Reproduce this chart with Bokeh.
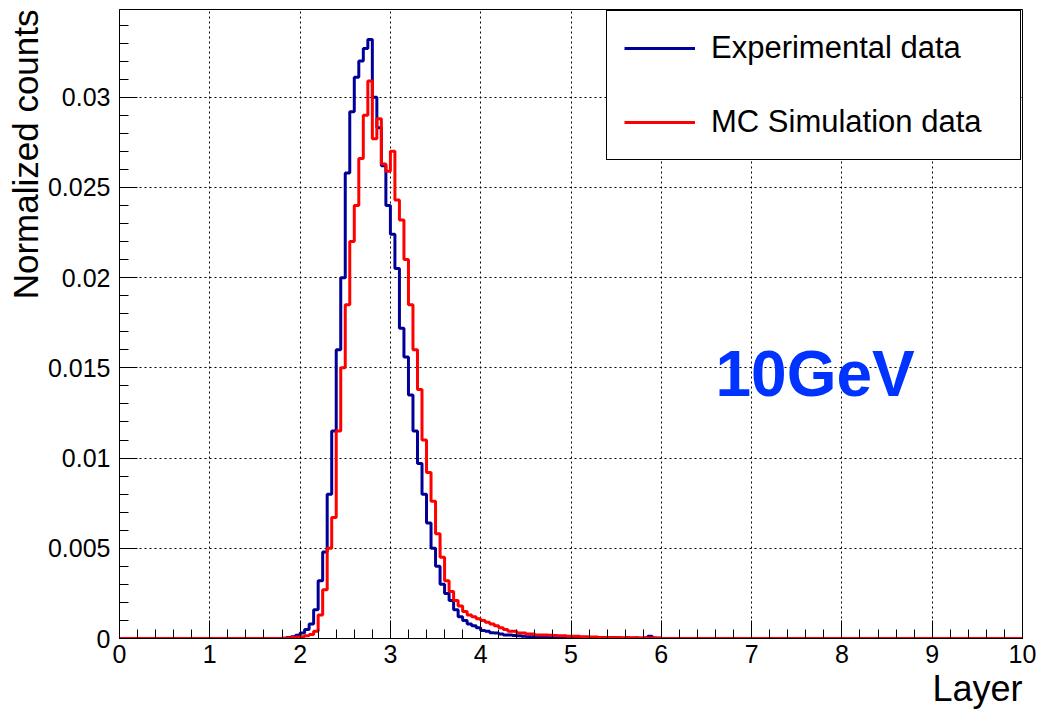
import numpy as np
from bokeh.plotting import figure
from bokeh.models import (Range1d, FixedTicker, CustomJSTickFormatter, Label,
                          Legend, LegendItem, Title)
from bokeh.embed import file_html
from bokeh.resources import INLINE

# ---------------- data ----------------
bin_width = 0.05
x_min, x_max = 0.0, 10.0
first_bin = 1.80   # lower edge of first listed bin; bins outside the lists are empty

# Experimental data, normalized counts per bin (1.80 ... 5.95)
exp_counts = [
    0.00002, 0.00005, 0.00010, 0.00018, 0.00030, 0.00050, 0.00080, 0.00160, 0.00320, 0.00480,   # 1.80-2.25
    0.00800, 0.01150, 0.01600, 0.02000, 0.02580, 0.02920, 0.03110, 0.03200, 0.03270, 0.03320,   # 2.30-2.75
    0.03000, 0.02830, 0.02620, 0.02400, 0.02240, 0.02050, 0.01720, 0.01560, 0.01350, 0.01150,   # 2.80-3.25
    0.00970, 0.00800, 0.00640, 0.00500, 0.00400, 0.00300, 0.00250, 0.00210, 0.00160, 0.00120,   # 3.30-3.75
    0.00100, 0.00080, 0.00070, 0.00060, 0.00045, 0.00040, 0.00032, 0.00030, 0.00025, 0.00020,   # 3.80-4.25
    0.00020, 0.00016, 0.00015, 0.00012, 0.00010, 0.00010, 0.00009, 0.00008, 0.00008, 0.00007,   # 4.30-4.75
    0.00006, 0.00006, 0.00005, 0.00005, 0.00004, 0.00004, 0.00004, 0.00003, 0.00004, 0.00003,   # 4.80-5.25
    0.00003, 0.00003, 0.00004, 0.00003, 0.00003, 0.00002, 0.00003, 0.00002, 0.00003, 0.00002,   # 5.30-5.75
    0.00003, 0.00012, 0.00003, 0.00002,                                                         # 5.80-5.95
]

# MC Simulation data, normalized counts per bin (1.80 ... 5.95)
mc_counts = [
    0.00002, 0.00003, 0.00005, 0.00008, 0.00010, 0.00015, 0.00022, 0.00040, 0.00130, 0.00270,   # 1.80-2.25
    0.00500, 0.00670, 0.01150, 0.01500, 0.01850, 0.02200, 0.02400, 0.02660, 0.02900, 0.03090,   # 2.30-2.75
    0.02770, 0.02880, 0.02630, 0.02590, 0.02700, 0.02430, 0.02320, 0.02100, 0.01850, 0.01600,   # 2.80-3.25
    0.01380, 0.01100, 0.00920, 0.00760, 0.00580, 0.00450, 0.00320, 0.00260, 0.00210, 0.00180,   # 3.30-3.75
    0.00150, 0.00130, 0.00120, 0.00110, 0.00100, 0.00090, 0.00080, 0.00070, 0.00060, 0.00050,   # 3.80-4.25
    0.00040, 0.00040, 0.00030, 0.00030, 0.00025, 0.00025, 0.00020, 0.00020, 0.00020, 0.00018,   # 4.30-4.75
    0.00016, 0.00015, 0.00015, 0.00013, 0.00012, 0.00012, 0.00010, 0.00010, 0.00009, 0.00008,   # 4.80-5.25
    0.00006, 0.00006, 0.00005, 0.00006, 0.00005, 0.00004, 0.00005, 0.00004, 0.00004, 0.00003,   # 5.30-5.75
    0.00004, 0.00003, 0.00003, 0.00003,                                                         # 5.80-5.95
]

series_labels = ["Experimental data", "MC Simulation data"]
x_title = "Layer"
y_title = "Normalized counts"
x_ticks = [0, 1, 2, 3, 4, 5, 6, 7, 8, 9, 10]
y_ticks = [0.0, 0.005, 0.01, 0.015, 0.02, 0.025, 0.03]
y_top = 0.03486
energy_label = "10GeV"

# ---------------- build histogram outlines ----------------
n_bins = int(round((x_max - x_min) / bin_width))
edges = np.round(x_min + bin_width * np.arange(n_bins + 1), 4)
i0 = int(round((first_bin - x_min) / bin_width))


def full_hist(counts):
    h = np.zeros(n_bins)
    h[i0:i0 + len(counts)] = counts
    return list(h) + [h[-1]]


exp_y = full_hist(exp_counts)
mc_y = full_hist(mc_counts)

FONT = "Liberation Sans"

p = figure(width=1039, height=714, output_backend="svg", toolbar_location=None,
           x_range=Range1d(x_min, x_max), y_range=Range1d(0, y_top),
           min_border_left=119, min_border_right=17, min_border_top=9,
           min_border_bottom=76)
p.outline_line_color = "black"
p.outline_line_width = 1
p.background_fill_color = "white"
p.border_fill_color = "white"

r_exp = p.step(list(edges), exp_y, mode="after", line_color="#000099", line_width=3)
r_mc = p.step(list(edges), mc_y, mode="after", line_color="#ff0000", line_width=3)

# axes
xa = p.xaxis[0]
xa.ticker = FixedTicker(ticks=x_ticks, minor_ticks=[round(0.2 * i, 2) for i in range(51)])
xa.major_tick_in = 18
xa.major_tick_out = 0
xa.minor_tick_in = 9
xa.minor_tick_out = 0
xa.major_label_standoff = 6
xa.major_label_text_font = FONT
xa.major_label_text_font_size = "25px"
xa.major_label_text_color = "black"
xa.axis_line_color = "black"
xa.major_tick_line_color = "black"
xa.minor_tick_line_color = "black"

ya = p.yaxis[0]
ya.ticker = FixedTicker(ticks=y_ticks, minor_ticks=[round(0.001 * i, 4) for i in range(35)])
ya.formatter = CustomJSTickFormatter(
    code="return tick === 0 ? '0' : String(parseFloat(tick.toFixed(4)));")
ya.major_tick_in = 18
ya.major_tick_out = 0
ya.minor_tick_in = 9
ya.minor_tick_out = 0
ya.major_label_standoff = 9
ya.major_label_text_font = FONT
ya.major_label_text_font_size = "25px"
ya.major_label_text_color = "black"
ya.axis_line_color = "black"
ya.major_tick_line_color = "black"
ya.minor_tick_line_color = "black"

for g in (p.xgrid[0], p.ygrid[0]):
    g.grid_line_color = "black"
    g.grid_line_dash = "2 3"
    g.grid_line_width = 1
    g.grid_line_alpha = 1.0

# axis titles (ROOT style: aligned to the far end of each axis)
p.add_layout(Title(text=y_title, align="right", text_font=FONT, text_font_size="35px",
                   text_font_style="normal", text_color="black", standoff=0), "left")
p.add_layout(Title(text=x_title, align="right", text_font=FONT, text_font_size="36px",
                   text_font_style="normal", text_color="black", standoff=0), "below")

p.add_layout(Label(x=6.6, y=0.01467, text=energy_label, text_font=FONT,
                   text_font_style="bold", text_font_size="64px", text_color="#0033ff",
                   text_baseline="alphabetic", text_align="left"))

legend = Legend(items=[LegendItem(label=series_labels[0], renderers=[r_exp]),
                       LegendItem(label=series_labels[1], renderers=[r_mc])],
                location="top_right", margin=1, padding=17, spacing=34,
                glyph_width=71, glyph_height=40, label_height=40, label_width=292,
                label_standoff=16, label_text_font=FONT, label_text_font_size="31px",
                label_text_color="black",
                border_line_color="black", border_line_width=1, border_line_alpha=1.0,
                background_fill_color="white", background_fill_alpha=1.0)
p.add_layout(legend)

open("out.html", "w").write(file_html(p, INLINE))
